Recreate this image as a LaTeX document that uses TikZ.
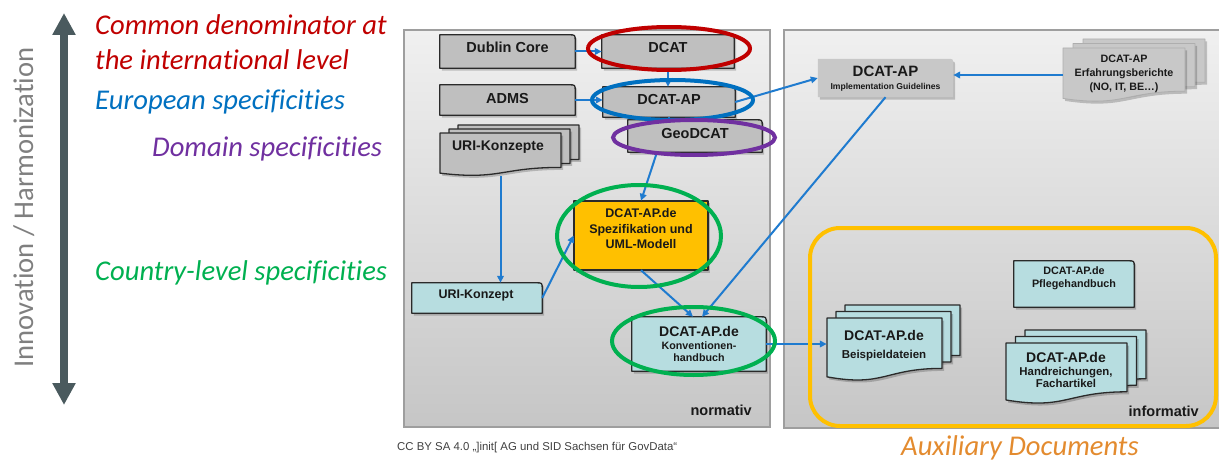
\documentclass[tikz,border=0pt]{standalone}
\usepackage{fontspec}
\newfontfamily\arialf{Liberation Sans}
\newfontfamily\calf[Ligatures=NoCommon]{Carlito}
\usetikzlibrary{arrows.meta,calc}
\definecolor{boxgray}{HTML}{BFBFBF}
\definecolor{boxline}{HTML}{2A2A2A}
\definecolor{lblue}{HTML}{B7DDE0}
\definecolor{orangeY}{HTML}{FFC000}
\definecolor{panTop}{HTML}{F0F0F0}
\definecolor{panBot}{HTML}{C6C6C6}
\definecolor{panLine}{HTML}{9E9E9E}
\definecolor{implgray}{HTML}{C8C8C8}
\definecolor{erfline}{HTML}{AEAEAE}
\definecolor{linkblue}{HTML}{1F7BCF}
\definecolor{ringred}{HTML}{C00000}
\definecolor{ringblue}{HTML}{0070C0}
\definecolor{ringpurple}{HTML}{7030A0}
\definecolor{ringgreen}{HTML}{00B050}
\definecolor{arrowgray}{HTML}{4A5A5E}
\definecolor{sidegray}{HTML}{7F7F7F}
\definecolor{auxorange}{HTML}{E38B2F}
\definecolor{cctext}{HTML}{404040}
\pgfdeclarelayer{panel}
\pgfdeclarelayer{shp}
\pgfdeclarelayer{top}
\pgfsetlayers{panel,shp,main,top}
\newcommand\fb[2]{\arialf\bfseries\fontsize{#1}{#2}\selectfont}
\newcommand\fitx[2]{\calf\itshape\fontsize{#1}{#2}\selectfont}
% box with rounded top-right corner around a frame node
\newcommand\trpath[2]{\path[#2] (#1.south west) -- (#1.north west) -- ([xshift=-6pt]#1.north east) .. controls (#1.north east) .. ([yshift=-6pt]#1.north east) -- (#1.south east) -- cycle;}
% document shape (wavy bottom) x1 y1 x2 y2 style
\newcommand\docat[5]{\path[#5] ({#1},{#2}) -- ({#3},{#2}) -- ({#3},{(#2)+0.8*((#4)-(#2))}) .. controls ({0.5*((#1)+(#3))},{(#2)+0.8*((#4)-(#2))}) and ({0.5*((#1)+(#3))},{(#2)+1.1*((#4)-(#2))}) .. ({#1},{(#2)+0.934*((#4)-(#2))}) -- cycle;}
\newcommand\docstack[7]{%
  \foreach \kk in {2,1,0}{%
    \docat{#1+\kk*(#5)}{#2+\kk*(#6)}{#3+\kk*(#5)}{#4+\kk*(#6)}{shad}%
    \docat{#1+\kk*(#5)}{#2+\kk*(#6)}{#3+\kk*(#5)}{#4+\kk*(#6)}{#7}%
  }}
\begin{document}
\begin{tikzpicture}[x=1pt,y=-1pt,
  frame/.style={inner sep=0pt, draw=none},
  lbl/.style={align=center, inner sep=0pt, text=black!90},
  gshape/.style={fill=boxgray, draw=boxline, line width=1.3pt, line join=round},
  bshape/.style={fill=lblue, draw=boxline, line width=1.3pt, line join=round},
  oshape/.style={fill=orangeY, draw=boxline, line width=2.5pt, line join=round},
  ishape/.style={fill=implgray, draw=none},
  eshape/.style={fill=implgray, draw=erfline, line width=0.8pt, line join=round},
  shad/.style={fill=black, opacity=0.2, draw=none, transform canvas={xshift=2pt,yshift=-2.5pt}},
  conn/.style={draw=linkblue, line width=2pt, -{Triangle[length=7pt,width=6.5pt]}},
  plainconn/.style={draw=linkblue, line width=2pt},
  ring/.style={line width=4pt, draw=#1},
  side/.style={anchor=base west, inner sep=0pt, font=\fitx{28.6}{34}},
]
\useasboundingbox (0,0) rectangle (1219,460);

% ---------- left scale ----------
\coordinate (atop) at (64,13);
\coordinate (abot) at (64,405);
\draw[arrowgray, line width=8pt, {Triangle[width=22pt,length=22pt]}-{Triangle[width=22pt,length=22pt]}] (atop) -- (abot);
\node[rotate=90, anchor=base, inner sep=0pt, text=sidegray, font=\calf\fontsize{28.6}{34}\selectfont] (axis) at (33,207.5) {Innovation / Harmonization};

\node[side, text=ringred] (t1) at (95,35) {Common denominator at};
\node[side, text=ringred] (t2) at (95,70) {the international level};
\node[side, text=ringblue] (t3) at (95,110) {European specificities};
\node[side, text=ringpurple] (t4) at (152,156) {Domain specificities};
\node[side, text=ringgreen] (t5) at (95,280) {Country-level specificities};
\node[side, text=auxorange] (t6) at (901,455) {Auxiliary Documents};

% ---------- panels ----------
\begin{pgfonlayer}{panel}
\shade[top color=panTop, bottom color=panBot] (404,30) rectangle (770,427);
\draw[panLine, line width=1.2pt] (404,30) rectangle (770,427);
\shade[top color=panTop, bottom color=panBot] (784,30) rectangle (1219,428);
\draw[panLine, line width=1.2pt] (1219,30) -- (784,30) -- (784,428) -- (1219,428);
\end{pgfonlayer}

% ---------- frame nodes ----------
\node[frame, minimum width=135pt, minimum height=33pt] (dc) at (507.5,51.5) {};
\node[frame, minimum width=132pt, minimum height=33pt] (dcat) at (668,51.5) {};
\node[frame, minimum width=135pt, minimum height=30pt] (adms) at (507.5,100) {};
\node[frame, minimum width=132pt, minimum height=30pt] (dcatap) at (669,102) {};
\node[frame, minimum width=134pt, minimum height=32pt] (geo) at (695,136) {};
\node[frame, minimum width=121pt, minimum height=43pt] (urik) at (500.5,154.5) {};
\node[frame, minimum width=134pt, minimum height=69pt] (spez) at (641,235.5) {};
\node[frame, minimum width=130pt, minimum height=30pt] (urikz) at (477,298) {};
\node[frame, minimum width=134pt, minimum height=54pt] (konv) at (699,344) {};
\node[frame, minimum width=135pt, minimum height=38pt] (impl) at (885.5,78) {};
\node[frame, minimum width=122pt, minimum height=54pt] (erf) at (1124,75) {};
\node[frame, minimum width=120pt, minimum height=46pt] (pfl) at (1074,284) {};
\node[frame, minimum width=115pt, minimum height=63pt] (beis) at (884.5,349.5) {};
\node[frame, minimum width=121pt, minimum height=61pt] (hand) at (1066.5,373.5) {};

% ---------- shapes ----------
\begin{pgfonlayer}{shp}
\foreach \n in {dc,dcat,adms,dcatap,geo}{\trpath{\n}{shad}\trpath{\n}{gshape}}
\foreach \n in {urikz,konv,pfl}{\trpath{\n}{shad}\trpath{\n}{bshape}}
\trpath{impl}{shad}\trpath{impl}{ishape}
\path[shad] (spez.south west) rectangle (spez.north east);
\path[oshape] (spez.south west) rectangle (spez.north east);
\docstack{440}{133}{561}{176}{9}{-4}{gshape}
\docstack{1063}{48}{1185}{102}{10}{-4.5}{eshape}
\docstack{827}{318}{942}{381}{9}{-6.5}{bshape}
\docstack{1006}{343}{1127}{404}{9.5}{-6.5}{bshape}
\end{pgfonlayer}

% ---------- texts ----------
\node[lbl, font=\fb{14.5}{17}] (dc-t) at (507.5,47.5) {Dublin Core};
\node[lbl, font=\fb{14.5}{17}] (dcat-t) at (668,47.5) {DCAT};
\node[lbl, font=\fb{14.5}{17}] (adms-t) at (507.5,99) {ADMS};
\node[lbl, font=\fb{14.5}{17}] (dcatap-t) at (669,99.5) {DCAT-AP};
\node[lbl, font=\fb{14.5}{17}] (geo-t) at (695,133.5) {GeoDCAT};
\node[lbl, font=\fb{14}{17}] (urik-t) at (498,147.5) {URI-Konzepte};
\node[lbl, font=\fb{12.5}{15.5}] (spez-t) at (641,229) {DCAT-AP.de\\Spezifikation und\\UML-Modell};
\node[lbl, font=\fb{12.5}{15}] (urikz-t) at (476,295.5) {URI-Konzept};
\node[lbl, font=\fb{10.7}{12.5}] (konv-t) at (699,344) {{\fb{14}{15}DCAT-AP.de}\\Konventionen-\\handbuch};
\node[lbl, font=\fb{8.6}{13}] (impl-t) at (885.5,79) {{\fb{15}{15}DCAT-AP}\\Implementation Guidelines};
\node[lbl, font=\fb{10.7}{14}] (erf-t) at (1124,74) {DCAT-AP\\Erfahrungsberichte\\(NO, IT, BE\dots)};
\node[lbl, font=\fb{10.8}{13}] (pfl-t) at (1074,278.5) {DCAT-AP.de\\Pflegehandbuch};
\node[lbl, font=\fb{11.5}{18}] (beis-t) at (884,346) {{\fb{14}{15}DCAT-AP.de}\\Beispieldateien};
\node[lbl, font=\fb{11.4}{12.5}] (hand-t) at (1066,370) {{\fb{14}{15}DCAT-AP.de}\\Handreichungen,\\Fachartikel};
\node[anchor=base east, inner sep=0pt, font=\fb{14.5}{17}, text=black!90] (norm) at (752,415) {normativ};
\node[anchor=base east, inner sep=0pt, font=\fb{14.5}{17}, text=black!90] (info) at (1199,416) {informativ};
\node[anchor=base west, inner sep=0pt, font=\arialf\fontsize{11.4}{13}\selectfont, text=cctext] (cc) at (397,450) {CC BY SA 4.0 „]init[ AG und SID Sachsen für GovData“};

% ---------- connectors ----------
\draw[conn] (dc.east) -- (dcat.west);
\draw[conn] (dcat.south) -- (dcat.south |- dcatap.north);
\draw[conn] (adms.east) -- (adms.east -| dcatap.west);
\draw[plainconn] (dcatap.south) -- (dcatap.south |- geo.north);
\draw[conn] ([xshift=-38pt]geo.south) -- (spez.north);
\draw[conn] (urik.south) -- (urik.south |- urikz.north);
\draw[conn] (urikz.east) -- (spez.west);
\draw[conn] (spez.south) -- ([xshift=-6pt]konv.north);
\draw[conn] (impl.south) -- ([xshift=3pt]konv.north);
\draw[conn] (dcatap.east) -- (impl.west);
\draw[conn] (erf.west) -- (erf.west -| impl.east);
\draw[conn] (konv.east) -- (konv.east -| beis.west);

% ---------- rings ----------
\begin{pgfonlayer}{top}
\draw[ring=ringred] (669,48.5) ellipse [x radius=81, y radius=21.5];
\draw[ring=ringblue] (672.5,100) ellipse [x radius=80.5, y radius=20];
\draw[ring=ringpurple] (694,137.5) ellipse [x radius=81, y radius=17.5];
\draw[ring=ringgreen] (639,236) ellipse [x radius=82, y radius=51];
\draw[ring=ringgreen] (693.5,341) ellipse [x radius=81.5, y radius=34];
\draw[orangeY, line width=4pt, rounded corners=30pt] (810,228) rectangle (1216,426);
\end{pgfonlayer}
\end{tikzpicture}
\end{document}
